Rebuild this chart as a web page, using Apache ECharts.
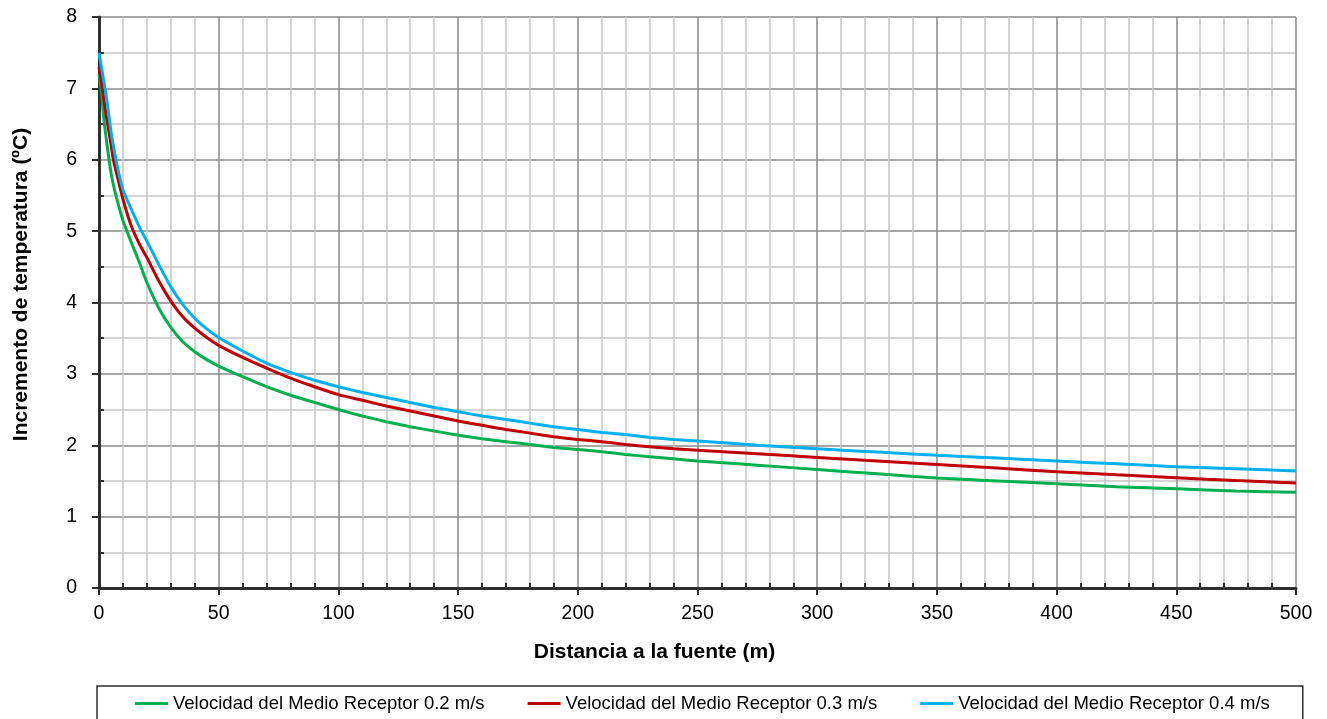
<!DOCTYPE html>
<html>
<head>
<meta charset="utf-8">
<script src="https://cdn.jsdelivr.net/npm/echarts@6/dist/echarts.min.js"></script>
<style>
  html, body { margin: 0; padding: 0; background: #ffffff; }
  #chart { width: 1327px; height: 719px; }
</style>
</head>
<body>
<div id="chart"></div>
<script>
// Distance from the source (m)
const distances = [0, 1, 2, 3, 4, 5, 6, 8, 10, 12, 14, 17, 20, 25, 30, 35, 40, 45, 50,
  60, 70, 80, 90, 100, 110, 120, 130, 140, 150, 160, 170, 180, 190, 200,
  210, 220, 230, 240, 250, 275, 300, 325, 350, 375, 400, 425, 450, 475, 500];

// Temperature increase (ºC) for each receiving-medium velocity
const tempV02 = [7.20, 6.95, 6.58, 6.30, 6.05, 5.82, 5.65, 5.38, 5.15, 4.97, 4.80, 4.55, 4.28, 3.92, 3.65, 3.45, 3.31, 3.20, 3.11,
  2.96, 2.82, 2.70, 2.60, 2.50, 2.41, 2.33, 2.26, 2.20, 2.14, 2.09, 2.05, 2.01, 1.97, 1.94,
  1.91, 1.87, 1.84, 1.81, 1.78, 1.72, 1.66, 1.60, 1.54, 1.50, 1.46, 1.42, 1.39, 1.36, 1.34];
const tempV03 = [7.30, 7.10, 6.85, 6.62, 6.42, 6.22, 6.00, 5.72, 5.45, 5.22, 5.03, 4.81, 4.63, 4.30, 4.02, 3.80, 3.64, 3.51, 3.40,
  3.23, 3.08, 2.94, 2.82, 2.71, 2.63, 2.55, 2.48, 2.41, 2.34, 2.28, 2.22, 2.17, 2.12, 2.08,
  2.05, 2.01, 1.98, 1.95, 1.93, 1.88, 1.83, 1.78, 1.73, 1.68, 1.63, 1.585, 1.545, 1.505, 1.47];
const tempV04 = [7.50, 7.30, 7.10, 6.90, 6.65, 6.40, 6.20, 5.85, 5.58, 5.42, 5.27, 5.05, 4.86, 4.53, 4.22, 3.97, 3.78, 3.63, 3.51,
  3.32, 3.15, 3.02, 2.91, 2.82, 2.74, 2.67, 2.60, 2.53, 2.47, 2.41, 2.36, 2.31, 2.26, 2.22,
  2.18, 2.15, 2.11, 2.08, 2.06, 2.00, 1.95, 1.905, 1.86, 1.82, 1.78, 1.74, 1.70, 1.67, 1.64];

const seriesNames = [
  'Velocidad del Medio Receptor 0.2 m/s',
  'Velocidad del Medio Receptor 0.3 m/s',
  'Velocidad del Medio Receptor 0.4 m/s'
];
const seriesColors = ['#00b050', '#c00000', '#00b0f0'];

const xTitle = 'Distancia a la fuente (m)';
const yTitle = 'Incremento de temperatura (ºC)';

const FONT = '"Liberation Sans", Arial, sans-serif';

// minor tick positions drawn on the inner side of each axis
const xMinorTicks = [];
for (let v = 10; v < 500; v += 10) if (v % 50 !== 0) xMinorTicks.push(v);
const yMinorTicks = [];
for (let v = 0.5; v < 8; v += 1) yMinorTicks.push(v);

const pairs = vals => distances.map((d, i) => [d, vals[i]]);

const chart = echarts.init(document.getElementById('chart'));

const axisLineStyle = { color: '#303030', width: 3 };

chart.setOption({
  animation: false,
  backgroundColor: '#ffffff',
  textStyle: { fontFamily: FONT },
  grid: { left: 99, right: 31, top: 17, bottom: 131, containLabel: false },
  xAxis: [
    {
      type: 'value', min: 0, max: 500, interval: 50,
      name: xTitle, nameLocation: 'middle', nameGap: 54,
      nameTextStyle: { fontFamily: FONT, fontSize: 21, fontWeight: 'bold', color: '#000', padding: [0, 86, 0, 0] },
      axisLine: { show: true, lineStyle: axisLineStyle },
      axisTick: { show: true, length: 7, lineStyle: { color: '#303030', width: 2 } },
      axisLabel: { fontFamily: FONT, fontSize: 19.5, color: '#000', margin: 16 },
      splitLine: { show: true, lineStyle: { color: '#8a8a8a', width: 1.5 } },
      minorTick: { show: false, splitNumber: 5 },
      minorSplitLine: { show: true, lineStyle: { color: '#c6c6c6', width: 1.5 } }
    },
    {
      type: 'value', min: 0, max: 500, position: 'bottom',
      axisLine: { show: false },
      axisTick: { show: true, inside: true, length: 5, customValues: xMinorTicks, lineStyle: { color: '#303030', width: 2 } },
      axisLabel: { show: false },
      splitLine: { show: false }
    }
  ],
  yAxis: [
    {
      type: 'value', min: 0, max: 8, interval: 1,
      name: yTitle, nameLocation: 'middle', nameGap: 67, nameRotate: 90,
      nameTextStyle: { fontFamily: FONT, fontSize: 21, fontWeight: 'bold', color: '#000', padding: [0, 0, 0, 36] },
      axisLine: { show: true, lineStyle: axisLineStyle },
      axisTick: { show: true, length: 7, lineStyle: { color: '#303030', width: 2 } },
      axisLabel: { fontFamily: FONT, fontSize: 19.5, color: '#000', margin: 22 },
      splitLine: { show: true, lineStyle: { color: '#8a8a8a', width: 1.5 } },
      minorTick: { show: false, splitNumber: 2 },
      minorSplitLine: { show: true, lineStyle: { color: '#c6c6c6', width: 1.5 } }
    },
    {
      type: 'value', min: 0, max: 8, position: 'left',
      axisLine: { show: false },
      axisTick: { show: true, inside: true, length: 5, customValues: yMinorTicks, lineStyle: { color: '#303030', width: 2 } },
      axisLabel: { show: false },
      splitLine: { show: false }
    }
  ],
  legend: {
    left: 97, top: 686,
    orient: 'horizontal',
    icon: 'rect', itemWidth: 33, itemHeight: 3, itemGap: 43,
    borderColor: '#303030', borderWidth: 1.5, borderRadius: 0,
    padding: [8, 33, 40, 38],
    textStyle: { fontFamily: FONT, fontSize: 18.5, color: '#000' },
    data: seriesNames
  },
  series: [tempV02, tempV03, tempV04].map((vals, i) => ({
    name: seriesNames[i],
    type: 'line',
    data: pairs(vals),
    showSymbol: false,
    smooth: 0.2,
    color: seriesColors[i],
    lineStyle: { width: 3, color: seriesColors[i] },
    z: 3 + i
  }))
});
</script>
</body>
</html>
